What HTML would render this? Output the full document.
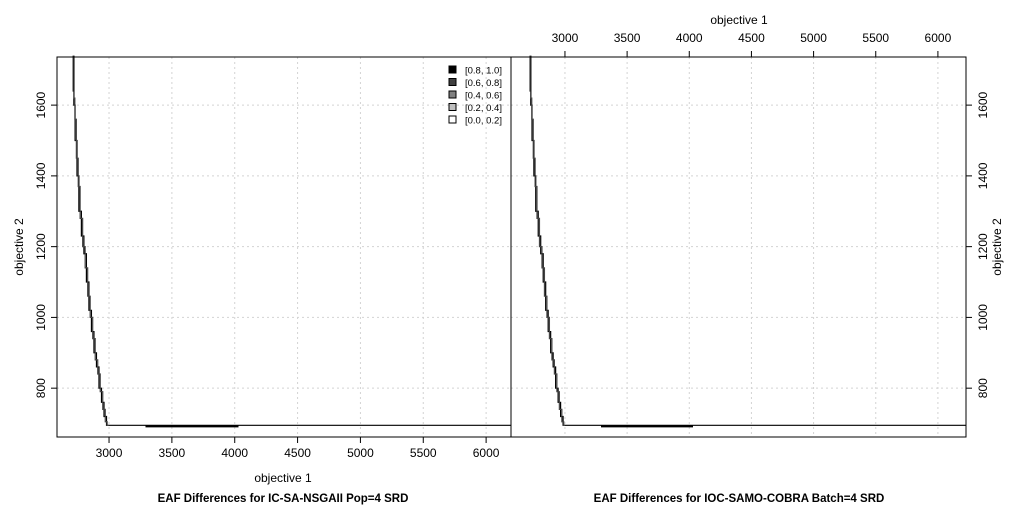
<!DOCTYPE html>
<html><head><meta charset="utf-8"><style>
body{margin:0;background:#fff;}
svg{display:block;font-family:"Liberation Sans",Arial,sans-serif;}
</style></head><body>
<svg id="c" width="1024" height="512"></svg>
<script>
const xTicks=[3000,3500,4000,4500,5000,5500,6000];
const yTicks=[800,1000,1200,1400,1600];
const leftFrontA=[[2715,1740],[2720,1640],[2730,1600],[2745,1500],[2760,1400],[2780,1300],[2800,1230],[2820,1180],[2840,1100],[2860,1020],[2880,960],[2900,900],[2920,860],[2940,800],[2960,760],[2980,720],[2995,695],[6200,695]];
const leftFrontB=[[2722,1740],[2728,1620],[2740,1560],[2755,1450],[2770,1370],[2790,1280],[2810,1200],[2830,1140],[2850,1060],[2870,1000],[2890,940],[2910,880],[2930,840],[2950,790],[2970,740],[2985,705],[2998,695]];
const rightFrontA=[[2720,1740],[2725,1640],[2735,1600],[2750,1500],[2765,1400],[2785,1300],[2805,1230],[2825,1180],[2845,1100],[2865,1020],[2885,960],[2905,900],[2925,860],[2945,800],[2965,760],[2985,720],[2998,695],[6230,695]];
const rightFrontB=[[2727,1740],[2733,1620],[2745,1560],[2760,1450],[2775,1370],[2795,1280],[2815,1200],[2835,1140],[2855,1060],[2875,1000],[2895,940],[2915,880],[2935,840],[2955,790],[2975,740],[2990,705],[3000,695]];
const thickSeg=[3290,4030,695];
const legendLabels=["[0.8, 1.0]","[0.6, 0.8]","[0.4, 0.6]","[0.2, 0.4]","[0.0, 0.2]"];
const legendFills=["#000","#404040","#808080","#bfbfbf","#fff"];

const svg=document.getElementById('c');const NS='http://www.w3.org/2000/svg';
function el(t,a,p){const e=document.createElementNS(NS,t);for(const k in a)e.setAttribute(k,a[k]);(p||svg).appendChild(e);return e;}
function txt(s,a){const e=el('text',a);e.textContent=s;return e;}
const Y0=57,Y1=437,ymin=662,ymax=1736;
const yS=v=>Y1-(v-ymin)/(ymax-ymin)*(Y1-Y0);
const panels=[{x0:57,x1:511,xmin:2586,xmax:6198,fronts:[leftFrontA,leftFrontB],side:'left',name:'left-panel'},
{x0:511,x1:966,xmin:2566,xmax:6226,fronts:[rightFrontA,rightFrontB],side:'right',name:'right-panel'}];
panels.forEach(p=>{
 const xS=v=>p.x0+(v-p.xmin)/(p.xmax-p.xmin)*(p.x1-p.x0);
 const g=el('g',{});
 xTicks.forEach(t=>{const x=xS(t);const l=el('line',{x1:x,x2:x,y1:Y0,y2:Y1,stroke:'#d3d3d3','stroke-dasharray':'2,3'},g);});
 yTicks.forEach(t=>{const y=yS(t);const l=el('line',{x1:p.x0,x2:p.x1,y1:y,y2:y,stroke:'#d3d3d3','stroke-dasharray':'2,3'},g);});
 p.fronts.forEach((f,i)=>{let d='';f.forEach((pt,j)=>{const x=xS(pt[0]),y=yS(pt[1]);if(j==0)d+='M'+x+','+y;else{d+='V'+y+'H'+x;}});
  const pa=el('path',{d:d,fill:'none',stroke:i==0?'#000':'#444','stroke-width':1.2},g);});
 const ts=el('line',{x1:xS(thickSeg[0]),x2:xS(thickSeg[1]),y1:yS(thickSeg[2])+1,y2:yS(thickSeg[2])+1,stroke:'#000','stroke-width':2},g);
 const fr=el('rect',{x:p.x0,y:Y0,width:p.x1-p.x0,height:Y1-Y0,fill:'none',stroke:'#000'},g);
 const bottom=p.side=='left';
 xTicks.forEach(t=>{const x=xS(t);if(bottom){el('line',{x1:x,x2:x,y1:Y1,y2:Y1+6,stroke:'#000'},g);const tt=txt(t,{x:x,y:Y1+20,'font-size':12,'text-anchor':'middle'});}
 else{el('line',{x1:x,x2:x,y1:Y0,y2:Y0-6,stroke:'#000'},g);const tt=txt(t,{x:x,y:Y0-15,'font-size':12,'text-anchor':'middle'});}});
 yTicks.forEach(t=>{const y=yS(t);if(bottom){el('line',{x1:p.x0,x2:p.x0-6,y1:y,y2:y,stroke:'#000'},g);const tt=txt(t,{x:0,y:0,'font-size':12,'text-anchor':'middle',transform:`translate(${p.x0-12},${y}) rotate(-90)`});}
 else{el('line',{x1:p.x1,x2:p.x1+6,y1:y,y2:y,stroke:'#000'},g);const tt=txt(t,{x:0,y:0,'font-size':12,'text-anchor':'middle',transform:`translate(${p.x1+21},${y}) rotate(-90)`});}});
});
let a=txt('objective 1',{x:283,y:482,'font-size':12,'text-anchor':'middle'});
a=txt('objective 1',{x:739,y:24,'font-size':12,'text-anchor':'middle'});
a=txt('objective 2',{x:0,y:0,'font-size':12,'text-anchor':'middle',transform:'translate(23,247) rotate(-90)'});
a=txt('objective 2',{x:0,y:0,'font-size':12,'text-anchor':'middle',transform:'translate(1001,247) rotate(-90)'});
a=txt('EAF Differences for IC-SA-NSGAII Pop=4 SRD',{x:283,y:502,'font-size':11.5,'font-weight':'bold','text-anchor':'middle'});
a=txt('EAF Differences for IOC-SAMO-COBRA Batch=4 SRD',{x:739,y:502,'font-size':11.5,'font-weight':'bold','text-anchor':'middle'});
legendLabels.forEach((l,i)=>{const y=70+i*12.5;
 const r=el('rect',{x:449,y:y-4,width:7,height:7,fill:legendFills[i],stroke:'#000'});
 const t=txt(l,{x:465,y:y+3.5,'font-size':9.5});});
</script>
</body></html>
